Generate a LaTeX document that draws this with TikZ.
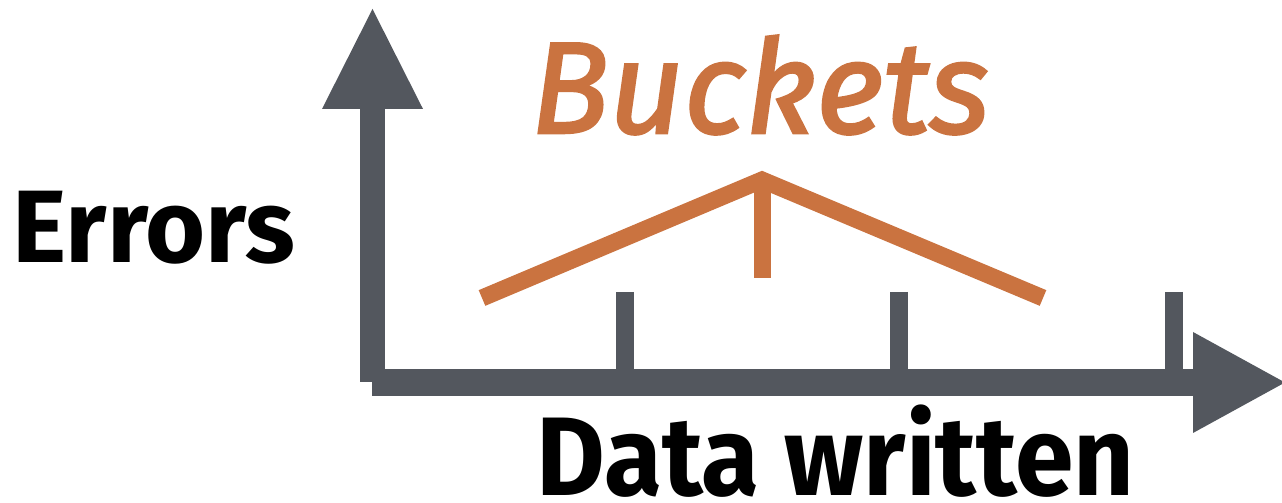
\documentclass[tikz,border=0pt]{standalone}
\usepackage{fontspec}
\setmainfont{Fira Sans}
\newfontfamily\narrowbold[FakeStretch=0.945]{Fira Sans}
\newfontfamily\bucketfont[FakeBold=2]{Fira Sans Italic}
\usepackage{tikz}

\definecolor{axisgrey}{HTML}{53575E}
\definecolor{bucketorange}{HTML}{CA7340}

\tikzset{
  axisbar/.style={draw=axisgrey, line width=2.6mm},
  axishead/.style={fill=axisgrey, draw=none},
  tickbar/.style={draw=axisgrey, line width=1.8mm},
  bucketline/.style={draw=bucketorange, line width=1.7mm},
  axislabel/.style={inner sep=0pt, font=\bfseries}
}

\begin{document}
\begin{tikzpicture}
\useasboundingbox (0,0) rectangle (12.82,5.03);
% axes
  \coordinate (ybot) at (3.725,1.21);
  \coordinate (ytop) at (3.725,3.95);
  \coordinate (xleft) at (3.72,1.205);
  \coordinate (xright) at (11.95,1.205);
  \draw[axisbar, line width=2.5mm] (ybot)--(ytop);
  \fill[axishead] (3.22,3.94)--(4.23,3.94)--(3.725,4.94)--cycle;
  \draw[axisbar, line width=2.7mm] (xleft)--(xright);
  \fill[axishead] (11.93,1.71)--(11.93,0.70)--(12.85,1.205)--cycle;
% ticks on the x axis
  \foreach \tx/\tn in {6.25/a, 8.99/b, 11.74/c} {
    \coordinate (tick\tn) at (\tx,2.11);
    \coordinate (foot\tn) at (\tx,1.30);
    \draw[tickbar] (tick\tn)--(foot\tn);
  }
% the bucket roof
  \coordinate (roofleft) at (4.82,2.05);
  \coordinate (apex) at (7.62,3.23);
  \coordinate (roofright) at (10.43,2.05);
  \coordinate (stem) at (7.62,2.25);
  \draw[bucketline] (roofleft)--(apex)--(roofright);
  \draw[bucketline] (7.62,3.28)--(stem);
% labels
  \node[axislabel, anchor=base west, font=\fontsize{29.3}{30}\selectfont\bfseries] (errors) at (0.12,2.40) {Errors};
  \node[axislabel, anchor=base west, font=\fontsize{31.8}{32}\selectfont\narrowbold\bfseries] (written) at (5.36,0.07) {Data written};
  \node[inner sep=0pt, anchor=base west, text=bucketorange, font=\fontsize{37}{38}\selectfont\bucketfont] (buckets) at (5.30,3.70) {Buckets};
\end{tikzpicture}
\end{document}
